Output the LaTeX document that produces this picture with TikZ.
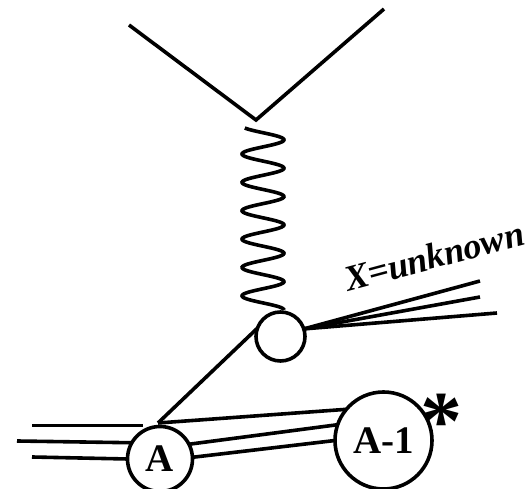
\documentclass[tikz,border=0pt]{standalone}
\usepackage{fontspec}
\setmainfont{Liberation Serif}

\begin{document}
\begin{tikzpicture}[x=1pt,y=1pt,line width=3.6pt,
  blob/.style={draw,circle,inner sep=0pt,outer sep=0pt,line width=3.6pt},
  nuc/.style={font=\fontsize{39}{39}\selectfont\bfseries}]
\useasboundingbox (0,0) rectangle (530,489);
% electron vertex
\coordinate (ein) at (129,464);
\coordinate (vtx) at (256,369);
\coordinate (eout) at (384,480);
\draw (ein) -- (vtx) -- (eout);
% blob and photon
\node[blob,minimum size=49pt] (hadr) at (280.5,152.5) {};
\draw plot[domain=-60:2250,samples=260,smooth] ({263+21*sin(\x)},{361-(\x+60)*0.07879});
% unknown final state
\foreach \n/\x/\y in {j1/480/208,j2/480/192,j3/497/176} {
  \coordinate (\n) at (\x,\y);
  \draw (hadr.18) -- (\n);
}
\node[rotate=15,font=\fontsize{36}{36}\selectfont\bfseries\itshape] (xlab) at (434,233) {X=unknown};
% nuclei
\node[blob,minimum size=65pt,nuc] (A) at (160,30) {A};
\node[blob,minimum size=97pt,nuc] (A1) at (383.5,48.5) {A-1};
\node[inner sep=0pt,font=\fontsize{84}{84}\selectfont\bfseries] (star) at (441,67) {*};
\coordinate (jn) at (158,66);
\draw (hadr.160) -- (jn);
\coordinate (b1) at (32,63.5);
\coordinate (b2) at (17,48);
\coordinate (b3) at (32,32);
\draw (b1) -- ++(111,0);
\draw (b2) -- (A.150);
\draw (b3) -- (A.west);
\draw (jn) -- (A1.140);
\draw (A.27) -- (A1.161);
\draw (A.3) -- (A1.west);
\end{tikzpicture}
\end{document}
